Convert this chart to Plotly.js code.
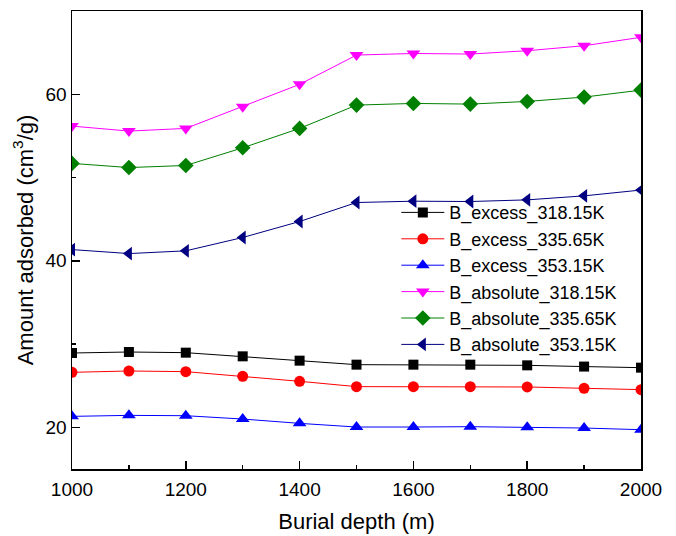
<!DOCTYPE html>
<html>
<head>
<meta charset="utf-8">
<script src="https://cdn.plot.ly/plotly-3.0.1.min.js"></script>
<style>html,body{margin:0;padding:0;background:#fff;}#chart{width:676px;height:536px;}</style>
</head>
<body>
<div id="chart"></div>
<script>
const depth = [1000, 1100, 1200, 1300, 1400, 1500, 1600, 1700, 1800, 1900, 2000];
const excess318 = [28.93, 29.05, 28.97, 28.53, 28.01, 27.53, 27.53, 27.53, 27.45, 27.30, 27.17];
const excess335 = [26.61, 26.77, 26.69, 26.13, 25.53, 24.89, 24.89, 24.89, 24.85, 24.69, 24.53];
const excess353 = [21.32, 21.44, 21.40, 21.00, 20.48, 20.04, 20.04, 20.08, 20.00, 19.92, 19.72];
const absolute318 = [56.18, 55.58, 55.90, 58.50, 61.19, 64.71, 64.90, 64.83, 65.23, 65.83, 66.84];
const absolute335 = [51.70, 51.20, 51.45, 53.57, 55.90, 58.70, 58.90, 58.82, 59.14, 59.66, 60.50];
const absolute353 = [41.35, 40.87, 41.20, 42.80, 44.72, 47.00, 47.16, 47.12, 47.32, 47.80, 48.50];
const seriesNames = ["B_excess_318.15K", "B_excess_335.65K", "B_excess_353.15K",
  "B_absolute_318.15K", "B_absolute_335.65K", "B_absolute_353.15K"];
const xTickVals = [1000, 1200, 1400, 1600, 1800, 2000];
const yTickVals = [20, 40, 60];

const seriesData = [excess318, excess335, excess353, absolute318, absolute335, absolute353];
const colors = ["#000000", "#ff0000", "#0000ff", "#ff00ff", "#008000", "#000080"];
const symbols = ["square", "circle", "triangle-up", "triangle-down", "diamond", "triangle-left"];
const sizes = [10, 11, 12, 12, 12, 12];

const traces = seriesData.map((ys, i) => ({
  x: depth, y: ys, name: seriesNames[i], type: "scatter", mode: "lines+markers",
  line: {color: colors[i], width: 1},
  marker: {color: colors[i], symbol: symbols[i], size: sizes[i]}
}));

const font = "Liberation Sans, Arial, sans-serif";
const layout = {
  width: 676, height: 536,
  margin: {l: 72, r: 35, t: 11, b: 67},
  paper_bgcolor: "#fff", plot_bgcolor: "#fff",
  font: {family: font, color: "#000", size: 19},
  showlegend: true,
  legend: {x: 0.57, y: 0.6, xanchor: "left", yanchor: "top", bgcolor: "rgba(0,0,0,0)",
    itemwidth: 43, font: {family: font, size: 18, color: "#000"}},
  xaxis: {
    range: [1000, 2000], tickvals: xTickVals, ticktext: xTickVals.map(String),
    ticks: "inside", ticklen: 8, tickwidth: 1.5, tickcolor: "#000",
    minor: {dtick: 100, tick0: 1000, ticks: "inside", ticklen: 4, tickwidth: 1.5, tickcolor: "#000"},
    showline: true, linecolor: "#000", linewidth: 1.5, mirror: true,
    showgrid: false, zeroline: false, ticklabelstandoff: 3,
    tickfont: {size: 19},
    title: {text: "Burial depth (m)", font: {size: 22}, standoff: 14}
  },
  yaxis: {
    range: [15, 70], tickvals: yTickVals, ticktext: yTickVals.map(String),
    ticks: "inside", ticklen: 8, tickwidth: 1.5, tickcolor: "#000",
    minor: {dtick: 10, tick0: 0, ticks: "inside", ticklen: 4, tickwidth: 1.5, tickcolor: "#000"},
    showline: true, linecolor: "#000", linewidth: 1.5, mirror: true,
    showgrid: false, zeroline: false,
    tickfont: {size: 19},
    title: {text: "Amount adsorbed (cm<sup>3</sup>/g)", font: {size: 22}, standoff: 6}
  }
};

Plotly.newPlot("chart", traces, layout, {displayModeBar: false, staticPlot: true});
</script>
</body>
</html>
